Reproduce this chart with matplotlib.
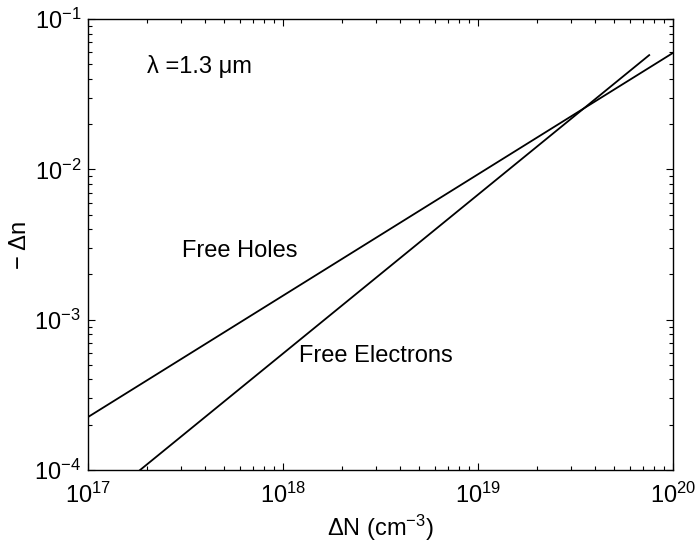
import numpy as np
import matplotlib
matplotlib.use("Agg")
import matplotlib.pyplot as plt

# endpoints (log-log straight lines)
holes_N = [1e17, 1e20]
holes_dn = [2.25e-4, 5.95e-2]
elec_N = [1.85e17, 7.55e19]
elec_dn = [1.0e-4, 5.75e-2]

plt.rcParams['font.family'] = ['Liberation Sans', 'DejaVu Sans']
plt.rcParams['mathtext.fontset'] = 'custom'
plt.rcParams['mathtext.rm'] = 'Liberation Sans'
plt.rcParams['mathtext.it'] = 'Liberation Sans:italic'
plt.rcParams['font.size'] = 17

fig = plt.figure(figsize=(6.96, 5.5), dpi=100)
ax = fig.add_axes([88 / 696, 80 / 550, 585 / 696, 451 / 550])

ax.loglog(holes_N, holes_dn, color='black', lw=1.3)
ax.loglog(elec_N, elec_dn, color='black', lw=1.3)

ax.set_xlim(1e17, 1e20)
ax.set_ylim(1e-4, 1e-1)
ax.tick_params(which='both', direction='in', top=True, right=True, width=0.8)
ax.tick_params(which='major', length=5, labelsize=17)
ax.tick_params(axis='x', which='major', pad=9)
ax.tick_params(axis='y', which='major', pad=5)
ax.tick_params(which='minor', length=3)
for s in ax.spines.values():
    s.set_linewidth(1.0)

ax.text(0.101, 0.880, 'λ =1.3 μm', transform=ax.transAxes, fontsize=17, va='baseline')
ax.text(0.161, 0.472, 'Free Holes', transform=ax.transAxes, fontsize=17, va='baseline')
ax.text(0.361, 0.239, 'Free Electrons', transform=ax.transAxes, fontsize=17, va='baseline')

ax.set_xlabel('ΔN (cm$^{-3}$)', fontsize=17, labelpad=4)
ax.set_ylabel('− Δn', fontsize=17, labelpad=2)

fig.savefig('out.png', dpi=100)
